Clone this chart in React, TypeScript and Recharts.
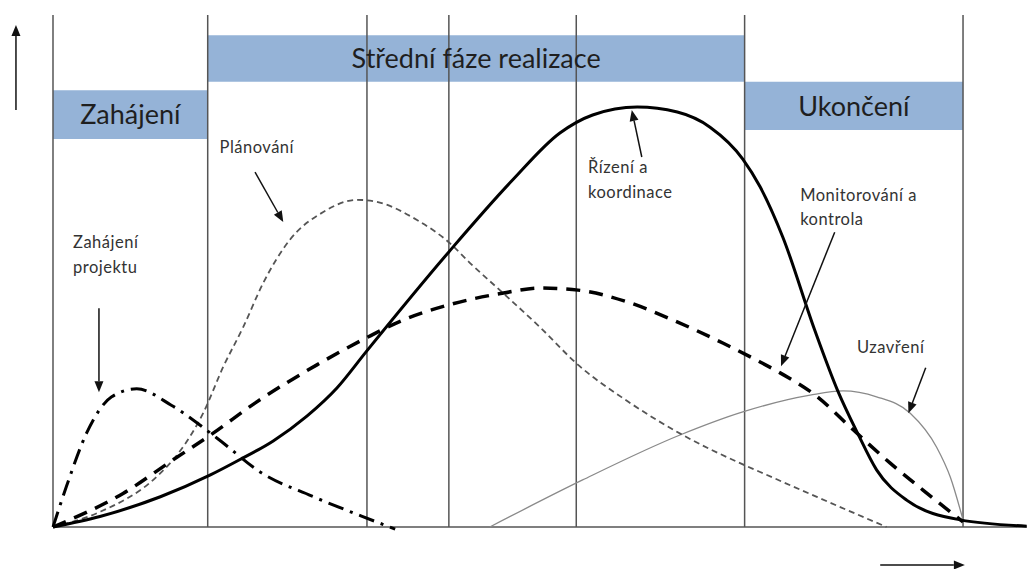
import React from "react"
import { LineChart, Line, XAxis, YAxis, ReferenceLine, ReferenceArea, ReferenceDot } from "recharts"

// time axis: 0 = start of project, 100 = end of closing phase
const phaseBounds = [0, 17, 34.5, 43.5, 57.5, 76, 100]

const phases = [
  { name: "Zahájení", x1: 0, x2: 17, y1: 92.4, y2: 104 },
  { name: "Střední fáze realizace", x1: 17, x2: 76, y1: 106, y2: 117.1 },
  { name: "Ukončení", x1: 76, x2: 100, y1: 94.5, y2: 106 },
]

const zahajeni = [
  { t: 0, v: 0 }, { t: 1.5, v: 9.8 }, { t: 3.7, v: 22.4 }, { t: 6.45, v: 31 },
  { t: 9.2, v: 32.9 }, { t: 13, v: 29 }, { t: 18, v: 21.2 }, { t: 22.9, v: 12.9 },
  { t: 28.4, v: 7.4 }, { t: 33.9, v: 2.6 }, { t: 37.6, v: -0.5 },
]

const planovani = [
  { t: 0, v: 0 }, { t: 5.16, v: 3.6 }, { t: 11.4, v: 12 }, { t: 13.9, v: 17.9 },
  { t: 16.5, v: 27.1 }, { t: 18.7, v: 38.1 }, { t: 20.9, v: 47.6 }, { t: 23.1, v: 58.1 },
  { t: 26, v: 68.3 }, { t: 29.7, v: 75 }, { t: 33.4, v: 77.9 }, { t: 35.6, v: 77.4 },
  { t: 40, v: 73.1 }, { t: 43.6, v: 67.6 }, { t: 45.8, v: 62.9 }, { t: 49.1, v: 56.4 },
  { t: 53.5, v: 47.6 }, { t: 57.7, v: 38.6 }, { t: 63.1, v: 30 }, { t: 69.2, v: 21.9 },
  { t: 75.5, v: 15.2 }, { t: 77.7, v: 13.1 }, { t: 84, v: 7.1 }, { t: 91.6, v: 0 },
]

const rizeni = [
  { t: 0, v: 0 }, { t: 5.16, v: 2.5 }, { t: 11.8, v: 7.2 }, { t: 17.3, v: 12.4 },
  { t: 20.5, v: 16 }, { t: 24.2, v: 20.5 }, { t: 27.9, v: 26.4 }, { t: 31.2, v: 33.1 },
  { t: 34.4, v: 41.7 }, { t: 43.5, v: 65.5 }, { t: 50.5, v: 82.6 }, { t: 55.7, v: 93.8 },
  { t: 59.3, v: 98.1 }, { t: 64.2, v: 100 }, { t: 68.6, v: 98.8 }, { t: 72.2, v: 95.2 },
  { t: 75.8, v: 87.6 }, { t: 77.7, v: 81 }, { t: 80.2, v: 69 }, { t: 83.7, v: 46.9 },
  { t: 86.2, v: 32.6 }, { t: 88.4, v: 22.4 }, { t: 90.5, v: 13.6 }, { t: 93.8, v: 6.4 },
  { t: 99.7, v: 1.7 }, { t: 107, v: 0.2 },
]

const monitorovani = [
  { t: 0, v: 0 }, { t: 7.7, v: 8 }, { t: 13.2, v: 16 }, { t: 17.3, v: 21.9 },
  { t: 22.4, v: 29.8 }, { t: 29, v: 38.6 }, { t: 34.4, v: 45 }, { t: 38.5, v: 49.3 },
  { t: 43.5, v: 52.9 }, { t: 49.5, v: 55.7 }, { t: 53.5, v: 56.9 }, { t: 57.7, v: 56.4 },
  { t: 63.1, v: 53.6 }, { t: 68.1, v: 49.3 }, { t: 73.6, v: 43.8 }, { t: 77.7, v: 39.3 },
  { t: 79.9, v: 36.7 }, { t: 84, v: 31 }, { t: 87.6, v: 23.8 }, { t: 92, v: 15.2 },
  { t: 95.6, v: 8.8 }, { t: 100, v: 1.2 },
]

const uzavreni = [
  { t: 48, v: 0 }, { t: 58.2, v: 11.2 }, { t: 68.9, v: 21.9 }, { t: 75.8, v: 27.4 },
  { t: 83.2, v: 31.4 }, { t: 86.8, v: 32.4 }, { t: 90.5, v: 31 }, { t: 94.2, v: 27.1 },
  { t: 97.1, v: 19 }, { t: 98.6, v: 11.9 }, { t: 100, v: 1.7 },
]

const notes = [
  { text: "Plánování", t: 18.3, v: 89 },
  { text: "Zahájení", t: 2.2, v: 66.4 },
  { text: "projektu", t: 2.2, v: 60.5 },
  { text: "Řízení a", t: 58.8, v: 84.3 },
  { text: "koordinace", t: 58.8, v: 78.3 },
  { text: "Monitorování a", t: 82.1, v: 77.5 },
  { text: "kontrola", t: 82.1, v: 71.8 },
  { text: "Uzavření", t: 88.35, v: 41.4 },
]

const pointers = [
  { from: { x: 5.05, y: 52.1 }, to: { x: 5.05, y: 32.1 } },
  { from: { x: 22.2, y: 84.5 }, to: { x: 25.3, y: 72.6 } },
  { from: { x: 64.7, y: 88.1 }, to: { x: 63.6, y: 99.3 } },
  { from: { x: 85.9, y: 70.2 }, to: { x: 80, y: 38.3 } },
  { from: { x: 95.9, y: 37.9 }, to: { x: 94, y: 27.1 } },
  // axis arrows
  { from: { x: -4.07, y: 99.3 }, to: { x: -4.07, y: 119.5 } },
  { from: { x: 90.9, y: -9.05 }, to: { x: 100.2, y: -9.05 } },
]

const Arrow = (p: any) => {
  const { x1, y1, x2, y2 } = p
  const a = Math.atan2(y2 - y1, x2 - x1)
  const len = 11
  const w = 4.5
  const bx = x2 - len * Math.cos(a)
  const by = y2 - len * Math.sin(a)
  const pts = [
    `${x2},${y2}`,
    `${bx + w * Math.sin(a)},${by - w * Math.cos(a)}`,
    `${bx - w * Math.sin(a)},${by + w * Math.cos(a)}`,
  ].join(" ")
  return (
    <g>
      <line x1={x1} y1={y1} x2={bx} y2={by} stroke="#111" strokeWidth={1.5} />
      <polygon points={pts} fill="#111" />
    </g>
  )
}

export default function App() {
  return (
    <div style={{ position: "absolute", left: 0, top: 0 }}>
      <LineChart width={1027} height={569} margin={{ top: 0, right: 0, bottom: 0, left: 0 }}>
        <XAxis type="number" dataKey="t" domain={[-5.824, 107.03]} allowDataOverflow hide />
        <YAxis type="number" dataKey="v" domain={[-10, 125.476]} allowDataOverflow hide />

        {phases.map((p) => (
          <ReferenceArea
            key={p.name}
            x1={p.x1}
            x2={p.x2}
            y1={p.y1}
            y2={p.y2}
            fill="#95b3d7"
            fillOpacity={1}
            stroke="none"
            ifOverflow="visible"
            label={{ value: p.name, position: "center", fill: "#1f1f1f", fontSize: 27, fontFamily: "Lato" }}
          />
        ))}

        {phaseBounds.map((b) => (
          <ReferenceLine
            key={b}
            segment={[{ x: b, y: 0 }, { x: b, y: 121.9 }]}
            stroke="#555"
            strokeWidth={1.5}
            ifOverflow="visible"
          />
        ))}
        <ReferenceLine segment={[{ x: 0, y: 0 }, { x: 107, y: 0 }]} stroke="#555" strokeWidth={1.5} ifOverflow="visible" />

        <Line data={uzavreni} dataKey="v" type="monotone" stroke="#8a8a8a" strokeWidth={1.3} dot={false} activeDot={false} isAnimationActive={false} />
        <Line data={planovani} dataKey="v" type="monotone" stroke="#555" strokeWidth={1.8} strokeDasharray="6 4" dot={false} activeDot={false} isAnimationActive={false} />
        <Line data={zahajeni} dataKey="v" type="monotone" stroke="#000" strokeWidth={3} strokeDasharray="16 7 3 7" dot={false} activeDot={false} isAnimationActive={false} />
        <Line data={monitorovani} dataKey="v" type="monotone" stroke="#000" strokeWidth={3.5} strokeDasharray="14 9" dot={false} activeDot={false} isAnimationActive={false} />
        <Line data={rizeni} dataKey="v" type="monotone" stroke="#000" strokeWidth={3} dot={false} activeDot={false} isAnimationActive={false} />

        {pointers.map((a, i) => (
          <ReferenceLine key={i} segment={[a.from, a.to]} ifOverflow="visible" shape={Arrow} />
        ))}

        {notes.map((n) => (
          <ReferenceDot
            key={n.text}
            x={n.t}
            y={n.v}
            r={0}
            ifOverflow="visible"
            shape={(p: any) => (
              <text x={p.cx} y={p.cy} fill="#333" fontSize={16.5} letterSpacing={0.5} fontFamily="Lato">
                {n.text}
              </text>
            )}
          />
        ))}
      </LineChart>
    </div>
  )
}
